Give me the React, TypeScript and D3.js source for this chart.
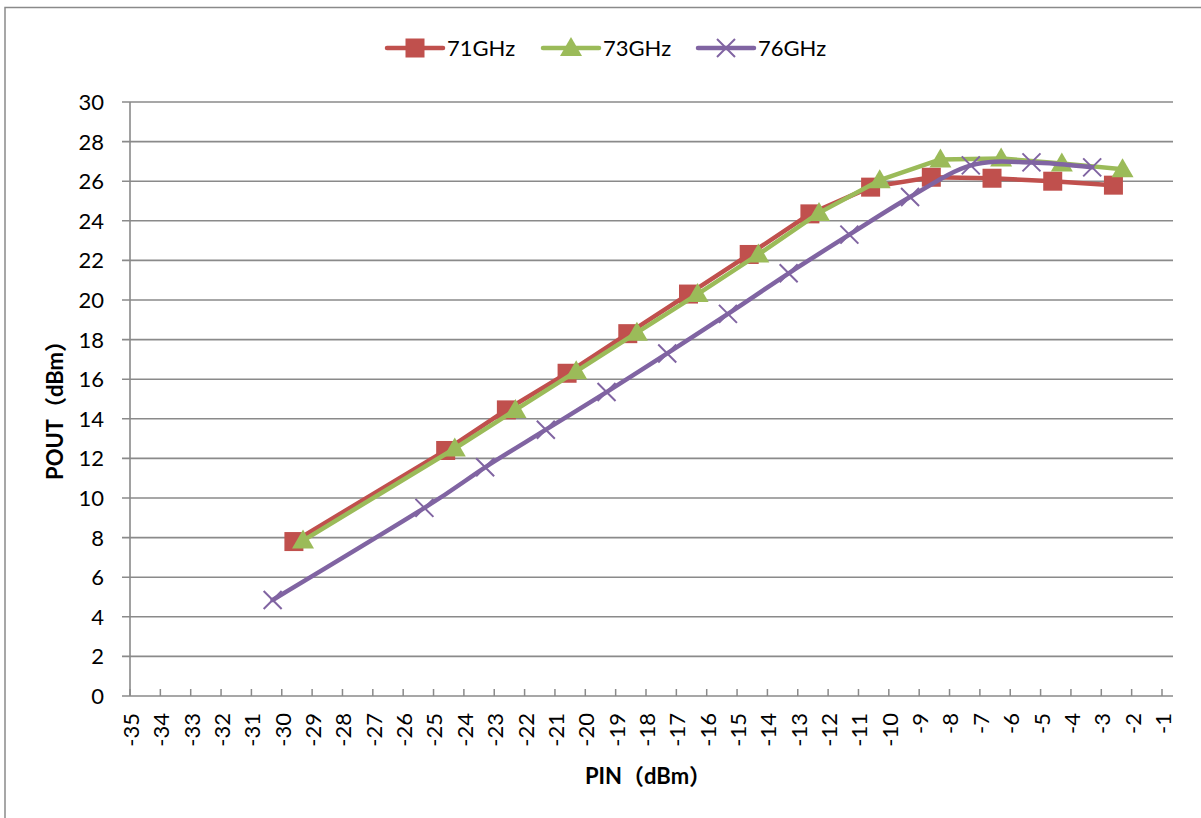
import React from 'react';
import * as d3 from 'd3';

// PIN (dBm) / POUT (dBm) per frequency
const pin71 = [-29.6, -24.6, -22.6, -20.6, -18.6, -16.6, -14.6, -12.6, -10.6, -8.6, -6.6, -4.6, -2.6];
const pout71 = [7.8, 12.4, 14.45, 16.3, 18.3, 20.3, 22.3, 24.35, 25.7, 26.2, 26.15, 26.0, 25.8];
const pin73 = [-29.3, -24.3, -22.3, -20.3, -18.3, -16.3, -14.3, -12.3, -10.3, -8.3, -6.3, -4.3, -2.3];
const pout73 = [7.85, 12.5, 14.45, 16.4, 18.35, 20.3, 22.3, 24.4, 26.05, 27.1, 27.15, 26.9, 26.6];
const pin76 = [-30.3, -25.3, -23.3, -21.3, -19.3, -17.3, -15.3, -13.3, -11.3, -9.3, -7.3, -5.3, -3.3];
const pout76 = [4.85, 9.5, 11.55, 13.45, 15.35, 17.3, 19.3, 21.35, 23.3, 25.2, 26.8, 26.95, 26.7];

const seriesNames = ['71GHz', '73GHz', '76GHz'];
const xTicks = d3.range(-35, 0, 1);
const yTicks = d3.range(0, 31, 2);

const W = 1201;
const H = 818;
const FONT = "Lato, 'Noto Sans CJK SC', sans-serif";
const GRID = '#8a8a8a';

const series = [
  { name: seriesNames[0], xs: pin71, ys: pout71, color: '#C0504D', marker: 'square', smooth: false },
  { name: seriesNames[1], xs: pin73, ys: pout73, color: '#9BBB59', marker: 'triangle', smooth: false },
  { name: seriesNames[2], xs: pin76, ys: pout76, color: '#8064A2', marker: 'x', smooth: true },
];

function Marker({ kind, x, y, color }: { kind: string; x: number; y: number; color: string }) {
  if (kind === 'square') {
    return <rect x={x - 9.5} y={y - 9.5} width={19} height={19} fill={color} />;
  }
  if (kind === 'triangle') {
    return <path d={`M${x},${y - 11}L${x + 11},${y + 8}L${x - 11},${y + 8}Z`} fill={color} />;
  }
  return (
    <path
      d={`M${x - 9},${y - 9}L${x + 9},${y + 9}M${x - 9},${y + 9}L${x + 9},${y - 9}`}
      stroke={color}
      strokeWidth={2}
      fill="none"
    />
  );
}

export default function App() {
  const left = 130;
  const right = 1173;
  const x = d3.scaleLinear().domain([-35, -1]).range([left, 1162]);
  const y = d3.scaleLinear().domain([0, 30]).range([696, 102]);

  return (
    <svg
      width={W}
      height={H}
      style={{ position: 'absolute', left: 0, top: 0, background: '#fff' }}
      fontFamily={FONT}
    >
      <rect x={5} y={7.5} width={W + 20} height={H + 20} fill="#fff" stroke={GRID} strokeWidth={1.5} />

      {/* horizontal gridlines + y ticks */}
      {yTicks.map((t) => (
        <g key={t}>
          <line x1={122} x2={right} y1={y(t)} y2={y(t)} stroke={GRID} strokeWidth={1.6} />
          <text x={104} y={y(t)} dy="0.36em" textAnchor="end" fontSize={22} fill="#000">
            {t}
          </text>
        </g>
      ))}
      <line x1={left} x2={left} y1={y(30)} y2={y(0)} stroke={GRID} strokeWidth={1.6} />

      {/* x ticks */}
      {xTicks.map((t) => (
        <g key={t}>
          <line x1={x(t)} x2={x(t)} y1={y(0) - 7} y2={y(0)} stroke={GRID} strokeWidth={1.5} />
          <text
            transform={`translate(${x(t) + 1},${713}) rotate(-90)`}
            textAnchor="end"
            dy="0.36em"
            fontSize={22}
            fill="#000"
          >
            {t}
          </text>
        </g>
      ))}

      {/* series */}
      {series.map((s) => {
        const pts: [number, number][] = s.xs.map((v, i) => [x(v), y(s.ys[i])]);
        const line = d3.line().curve(s.smooth ? d3.curveCardinal.tension(0) : d3.curveLinear);
        return (
          <g key={s.name}>
            <path d={line(pts) || ''} fill="none" stroke={s.color} strokeWidth={4.5} strokeLinejoin="round" strokeLinecap="round" />
            {pts.map(([px, py], i) => (
              <Marker key={i} kind={s.marker} x={px} y={py} color={s.color} />
            ))}
          </g>
        );
      })}

      {/* legend */}
      {series.map((s, i) => {
        const x0 = [387, 543, 698][i];
        return (
          <g key={s.name}>
            <line x1={x0} x2={x0 + 56} y1={48} y2={48} stroke={s.color} strokeWidth={4.5} strokeLinecap="round" />
            <Marker kind={s.marker} x={x0 + 28} y={48} color={s.color} />
            <text x={x0 + 60} y={56} fontSize={22} fill="#000">
              {s.name}
            </text>
          </g>
        );
      })}

      {/* axis titles */}
      <text x={648} y={784} textAnchor="middle" fontSize={22} fontWeight="bold" fill="#000">
        PIN（dBm）
      </text>
      <text
        transform={`translate(63,405) rotate(-90)`}
        textAnchor="middle"
        fontSize={22}
        fontWeight="bold"
        fill="#000"
      >
        POUT（dBm）
      </text>
    </svg>
  );
}
